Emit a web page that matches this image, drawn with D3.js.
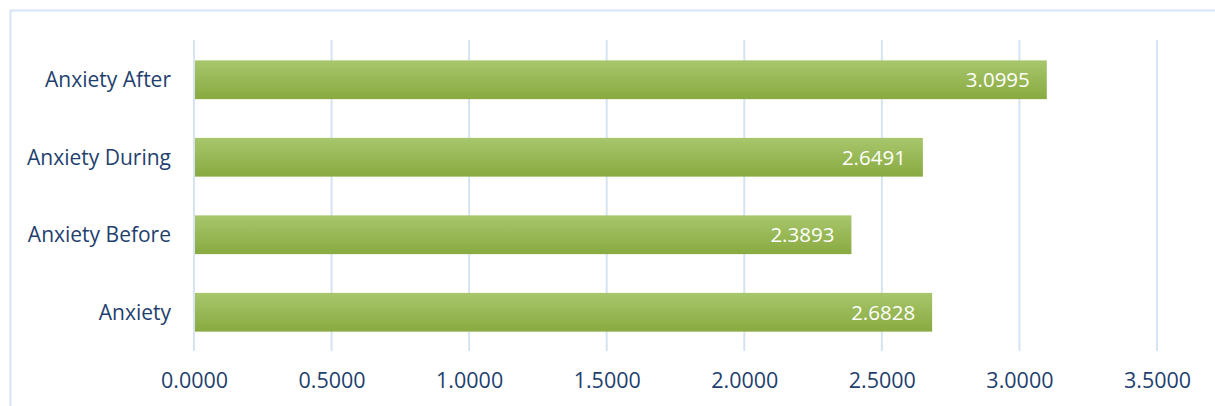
<!DOCTYPE html>
<html>
<head>
<meta charset="utf-8">
<script src="https://d3js.org/d3.v7.min.js"></script>
<style>
  body { margin: 0; background: #fff; }
  text { font-family: "Open Sans", "Noto Sans", sans-serif; }
</style>
</head>
<body>
<div id="chart"></div>
<script>
  // data
  const categories = ["Anxiety After", "Anxiety During", "Anxiety Before", "Anxiety"];
  const values = [3.0995, 2.6491, 2.3893, 2.6828];
  const ticks = [0, 0.5, 1.0, 1.5, 2.0, 2.5, 3.0, 3.5];

  const w = 1215, h = 406;
  const svg = d3.select("#chart").append("svg")
      .attr("width", w)
      .attr("height", h);

  // outer frame
  svg.append("rect")
     .attr("x", 10.5).attr("y", 10.5)
     .attr("width", 1230).attr("height", 420)
     .attr("fill", "none")
     .attr("stroke", "#d6e3f3")
     .attr("stroke-width", 2);

  const defs = svg.append("defs");
  const grad = defs.append("linearGradient")
      .attr("id", "barGrad")
      .attr("x1", 0).attr("y1", 0).attr("x2", 0).attr("y2", 1);
  grad.append("stop").attr("offset", "0%").attr("stop-color", "#a8c66c");
  grad.append("stop").attr("offset", "100%").attr("stop-color", "#88aa40");

  const x = d3.scaleLinear().domain([0, 3.5]).range([194, 1157]);
  const y = d3.scaleBand().domain(categories).range([41, 351]).paddingInner(0.5).paddingOuter(0.25);

  // gridlines
  svg.append("g").selectAll("line")
     .data(ticks)
     .join("line")
     .attr("x1", d => x(d)).attr("x2", d => x(d))
     .attr("y1", 40).attr("y2", 351)
     .attr("stroke", "#d6e3f3")
     .attr("stroke-width", 2);

  // bars
  svg.append("g").selectAll("rect")
     .data(values)
     .join("rect")
     .attr("x", x(0) + 1)
     .attr("y", (d, i) => y(categories[i]))
     .attr("width", d => x(d) - x(0) - 1)
     .attr("height", y.bandwidth())
     .attr("fill", "url(#barGrad)");

  // value labels
  svg.append("g").selectAll("text")
     .data(values)
     .join("text")
     .attr("x", d => x(d) - 17)
     .attr("y", (d, i) => y(categories[i]) + y.bandwidth() / 2)
     .attr("dy", "0.36em")
     .attr("text-anchor", "end")
     .attr("fill", "#fff")
     .style("font-size", "20.5px")
     .text(d => d.toFixed(4));

  // category labels
  svg.append("g").selectAll("text")
     .data(categories)
     .join("text")
     .attr("x", 171)
     .attr("y", d => y(d) + y.bandwidth() / 2)
     .attr("dy", "0.36em")
     .attr("text-anchor", "end")
     .attr("fill", "#1f3f6e")
     .style("font-size", "21px")
     .text(d => d);

  // x axis labels
  const xAxis = d3.axisBottom(x).tickValues(ticks).tickSize(0).tickPadding(0)
      .tickFormat(d => d.toFixed(4));
  const ax = svg.append("g").attr("transform", "translate(0, 373)").call(xAxis);
  ax.select(".domain").remove();
  ax.selectAll("text")
    .attr("fill", "#1f3f6e")
    .style("font-size", "21.5px")
    .style("font-family", "'Open Sans', 'Noto Sans', sans-serif");
</script>
</body>
</html>
